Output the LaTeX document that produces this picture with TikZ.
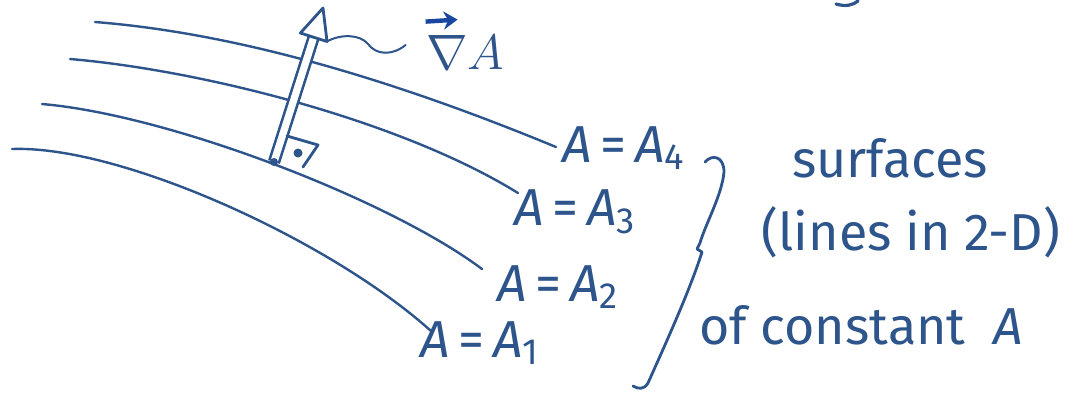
\documentclass[tikz,border=0pt]{standalone}
\usepackage{fontspec}
\usepackage{amsmath}
\setmainfont{Fira Sans}
\usetikzlibrary{calc, arrows.meta}
\definecolor{ink}{RGB}{45,85,140}
\definecolor{vecblue}{RGB}{25,70,160}
\tikzset{
	surface/.style={ink, line width=1.2pt, line cap=round},
	surflabel/.style={ink, font=\fontsize{26}{30}\selectfont, inner sep=0pt},
	note/.style={ink, font=\fontsize{26}{30}\selectfont, inner sep=0pt},
	pen/.style={ink, line width=1.2pt, line cap=round, line join=round},
}
\newcommand{\lvl}[1]{\textit{A}\,=\,\textit{A}\textsubscript{#1}}
\begin{document}
\begin{tikzpicture}[x=0.5pt, y=-0.5pt]
	\useasboundingbox (0,0) rectangle (1090,392);
	% Surfaces of constant A
	\draw[surface] (95,22) .. controls (260,35) and (430,95) .. (556,147);
	\draw[surface] (70,59) .. controls (200,70) and (400,120) .. (518,193);
	\draw[surface] (42,104) .. controls (170,115) and (390,200) .. (482,269);
	\draw[surface] (12,149) .. controls (120,145) and (330,240) .. (431,331);
	% Level labels
	\foreach \i/\x/\y in {1/480/343, 2/558/287, 3/575/212, 4/624/148} {
		\node[surflabel] (level\i) at (\x,\y) {\lvl{\i}};
	}
	
	% Gradient arrow (hollow)
	\coordinate (grad base) at (274,162);
	\coordinate (grad tip) at (323,8);
	\coordinate (head mid) at ($(grad tip)!0.19!(grad base)$);
	\coordinate (head left) at ($(head mid)!7pt!90:(grad tip)$);
	\coordinate (head right) at ($(head mid)!7pt!-90:(grad tip)$);
	\draw[ink, line width=1.3pt, double=white, double distance=3.6pt] (grad base) -- (head mid);
	\draw[pen, line width=1.4pt, fill=white] (grad tip) -- (head left) -- (head right) -- cycle;
	\fill[ink] (grad base) circle (4);
	
	% Right angle mark
	\draw[pen, line width=1.4pt] (287,136) -- (318,145) -- (303,167);
	\fill[ink] (298,153) circle (4.5);
	
	% Label for the gradient
	\node[note, font=\fontsize{24}{28}\selectfont] (grad label) at (465,52) {$\nabla A$};
	\draw[vecblue, line width=2.2pt, -{Stealth[length=7pt, width=9pt]}]
		($(grad label.north west)+(0,-13)$) -- ($(grad label.north west)+(32,-15)$);
	\coordinate (wiggle end) at ($(grad label.west)+(-20,-7)$);
	\draw[pen, line width=1pt] (head right) .. controls (340,34) and (360,34) .. (368,44)
		.. controls (376,55) and (392,56) .. (wiggle end);
	
	% Brace and description
	\draw[pen, line width=1.4pt] (705,162) .. controls (712,154) and (724,156) .. (724,172)
		.. controls (722,195) and (705,225) .. (700,243) -- (697,249) -- (702,252)
		.. controls (690,290) and (665,345) .. (648,383)
		.. controls (644,390) and (638,389) .. (633,386);
	\node[note] (surf) at (890,158) {surfaces};
	\node[note] (lines) at (911,232) {(lines in 2-D)};
	\node[note] (const) at (861,325) {of constant\hspace{14pt}\textit{A}};
	
	% Cut-off stroke at the top edge
	\draw[pen, line width=1.6pt] (836,4) .. controls (846,7) and (853,5) .. (858,1);
\end{tikzpicture}
\end{document}
